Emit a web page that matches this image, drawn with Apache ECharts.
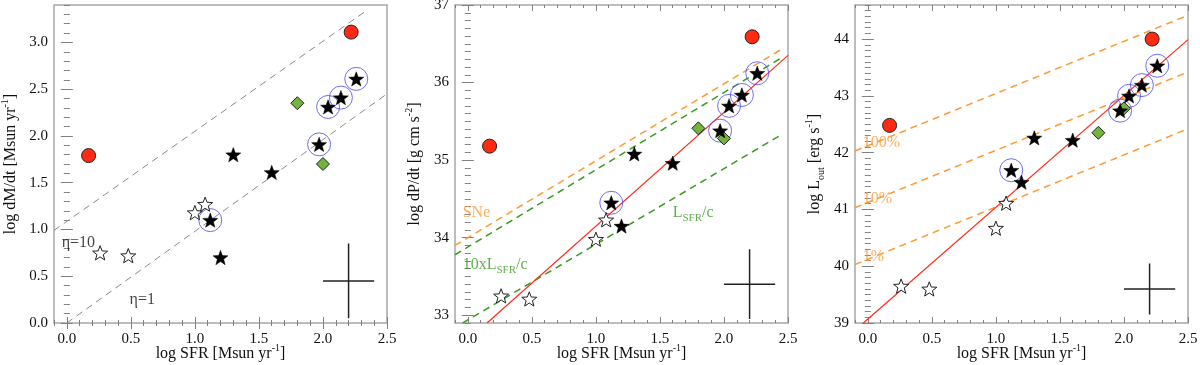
<!DOCTYPE html>
<html>
<head>
<meta charset="utf-8">
<script src="https://cdn.jsdelivr.net/npm/echarts@6/dist/echarts.min.js"></script>
<style>
  html, body { margin: 0; padding: 0; background: #fff; }
  #chart { width: 1200px; height: 365px; }
</style>
</head>
<body>
<div id="chart"></div>
<script>
// shared x values (log SFR)
const sfrRed = [0.17, 2.22];
const sfrGreen = [1.8, 2.0];
const sfrStar = [1.12, 1.2, 1.3, 1.6, 1.97, 2.04, 2.14, 2.26];
const starCircled = [1, 0, 0, 0, 1, 1, 1, 1];
const sfrOpen = [0.26, 0.48, 1.0, 1.08];

// panel 1: log dM/dt
const mdotRed = [1.79, 3.11];
const mdotGreen = [2.35, 1.70];
const mdotStar = [1.10, 0.70, 1.80, 1.61, 1.91, 2.31, 2.41, 2.61];
const mdotOpen = [0.75, 0.72, 1.18, 1.27];
const mdotEta1 = [[0, 0], [2.5, 2.45]];
const mdotEta10 = [[-0.1, 0.99], [2.35, 3.35]];
const mdotErr = [2.2, 0.45, 0.2, 0.4];

// panel 2: log dP/dt
const pdotRed = [35.18, 36.59];
const pdotGreen = [35.41, 35.28];
const pdotStar = [34.45, 34.15, 35.08, 34.96, 35.38, 35.70, 35.84, 36.12];
const pdotOpen = [33.25, 33.21, 33.98, 34.23];
const pdotFit = [[0.15, 32.9], [2.5, 36.35]];
const pdotSNe = [[-0.1, 33.9], [2.45, 36.43]];
const pdotRad10 = [[-0.1, 33.78], [2.45, 36.32]];
const pdotRad = [[-0.04, 32.9], [2.43, 35.31]];
const pdotErr = [2.2, 33.4, 0.2, 0.45];

// panel 3: log Lout
const loutRed = [42.48, 44.0];
const loutGreen = [42.35, 42.78];
const loutStar = [41.69, 41.48, 42.26, 42.22, 42.74, 43.0, 43.19, 43.53];
const loutOpen = [39.65, 39.6, 40.67, 41.11];
const loutFit = [[-0.035, 39.0], [2.5, 43.99]];
const lout100 = [[-0.1, 42.03], [2.5, 44.42]];
const lout10 = [[-0.1, 41.03], [2.5, 43.42]];
const lout1 = [[-0.1, 40.03], [2.5, 42.42]];
const loutErr = [2.2, 39.6, 0.2, 0.45];

// tick labels
const sfrTicks = [0, 0.5, 1, 1.5, 2, 2.5];
const mdotTicks = [0, 0.5, 1, 1.5, 2, 2.5, 3];
const pdotTicks = [33, 34, 35, 36, 37];
const loutTicks = [39, 40, 41, 42, 43, 44];

// annotations
const mdotNotes = [[-0.04, 0.86, 'η=10'], [0.49, 0.25, 'η=1']];
const pdotNotes = [[-0.04, 34.32, 'SNe', 'orange'], [-0.04, 33.65, '10xL{sub|SFR}/c', 'green'], [1.6, 34.32, 'L{sub|SFR}/c', 'green']];
const loutNotes = [[-0.04, 42.18, '100%'], [-0.04, 41.18, '10%'], [-0.04, 40.17, '1%']];

const FONT = 'Liberation Serif';
const ORANGE = '#ff9933';
const GREEN = '#3a9a22';
const RED = '#ff2a12';
const rich = {
  sup: { fontSize: 10, fontFamily: FONT, verticalAlign: 'top', lineHeight: 22 },
  sub: { fontSize: 10, fontFamily: FONT, verticalAlign: 'bottom', lineHeight: 22 }
};

// five-point star outline
let starPath = 'path://';
for (let i = 0; i < 10; i++) {
  const r = i % 2 ? 0.42 : 1;
  const a = (-90 + i * 36) * Math.PI / 180;
  starPath += (i ? 'L' : 'M') + (r * Math.cos(a)).toFixed(4) + ' ' + (r * Math.sin(a)).toFixed(4);
}
starPath += 'Z';

function minorsOf(min, max) {
  const out = [];
  for (let v = Math.round(min * 10); v <= Math.round(max * 10); v++) out.push(v / 10);
  return out;
}

const tickStyle = { color: '#808080', width: 1 };

function axesFor(dim, g, min, max, majors, name, fmt, gap) {
  const sides = dim === 'x' ? ['bottom', 'top'] : ['left', 'right'];
  const minors = minorsOf(min, max);
  const base = { type: 'value', gridIndex: g, min: min, max: max, axisLine: { show: false }, splitLine: { show: false } };
  const list = [];
  sides.forEach((pos, k) => {
    list.push(Object.assign({}, base, {
      position: pos,
      name: k === 0 ? name : '',
      nameLocation: 'middle',
      nameGap: gap,
      nameMoveOverlap: false,
      nameTextStyle: { fontFamily: FONT, fontSize: 16, color: '#111', rich: rich },
      axisLabel: k === 0
        ? { customValues: majors, formatter: fmt, fontFamily: FONT, fontSize: 15, color: '#111', margin: dim === 'x' ? 9 : 6 }
        : { show: false },
      axisTick: { customValues: majors, inside: true, length: 6, lineStyle: tickStyle }
    }));
    list.push(Object.assign({}, base, {
      position: pos,
      axisLabel: { show: false },
      axisTick: { customValues: minors, inside: true, length: 3, lineStyle: tickStyle }
    }));
  });
  return list;
}

const fmt1 = v => v.toFixed(1);
const fmt0 = v => v.toFixed(0);

const lefts = [54, 455, 855];
const grids = lefts.map(l => ({
  left: l, top: 5, width: 333, height: 318, show: true, containLabel: false,
  outerBoundsMode: 'none',
  borderColor: '#a8a8a8', borderWidth: 1.5, backgroundColor: 'transparent'
}));

let xAxes = [], yAxes = [];
for (let g = 0; g < 3; g++) {
  xAxes = xAxes.concat(axesFor('x', g, -0.1, 2.5, sfrTicks, 'log SFR [Msun yr{sup|-1}]', fmt1, 20));
}
yAxes = yAxes.concat(axesFor('y', 0, 0, 3.4, mdotTicks, 'log dM/dt [Msun yr{sup|-1}]', fmt1, 32));
yAxes = yAxes.concat(axesFor('y', 1, 32.9, 37, pdotTicks, 'log dP/dt [g cm s{sup|-2}]', fmt0, 29));
yAxes = yAxes.concat(axesFor('y', 2, 39, 44.6, loutTicks, 'log L{sub|out} [erg s{sup|-1}]', fmt0, 29));

function zip(xs, ys) { return xs.map((x, i) => [x, ys[i]]); }

function lineSeries(g, data, color, dashed, width) {
  return {
    type: 'line', xAxisIndex: g * 4, yAxisIndex: g * 4, data: data, symbol: 'none',
    silent: true, z: 1, animation: false,
    lineStyle: { color: color, width: width || 1, type: dashed ? [7, 5] : 'solid' }
  };
}

function crossSeries(g, e) {
  return [
    lineSeries(g, [[e[0] - e[2], e[1]], [e[0] + e[2], e[1]]], '#222', false, 1.5),
    lineSeries(g, [[e[0], e[1] - e[3]], [e[0], e[1] + e[3]]], '#222', false, 1.5)
  ];
}

function noteSeries(g, notes, defColor) {
  return {
    type: 'scatter', xAxisIndex: g * 4, yAxisIndex: g * 4, symbolSize: 0, silent: true, z: 3,
    animation: false,
    data: notes.map(n => ({
      value: [n[0], n[1]],
      label: {
        show: true, position: [0, 0], align: 'left', verticalAlign: 'middle',
        formatter: n[2], fontFamily: FONT, fontSize: 16,
        color: n[3] === 'orange' ? ORANGE : n[3] === 'green' ? GREEN : defColor,
        rich: { sub: { fontSize: 11, fontFamily: FONT, verticalAlign: 'bottom', lineHeight: 22, color: n[3] === 'green' ? GREEN : defColor } }
      }
    }))
  };
}

function markerSeries(g, red, green, star, open) {
  const ax = { xAxisIndex: g * 4, yAxisIndex: g * 4, animation: false };
  const ringed = sfrStar.map((x, i) => [x, star[i]]).filter((p, i) => starCircled[i]);
  return [
    Object.assign({ type: 'scatter', symbol: 'circle', symbolSize: 23, z: 4, data: ringed,
      itemStyle: { color: 'rgba(0,0,0,0)', borderColor: '#4b4bf0', borderWidth: 1 } }, ax),
    Object.assign({ type: 'scatter', symbol: 'circle', symbolSize: 14, z: 5, data: zip(sfrRed, red),
      itemStyle: { color: RED, borderColor: '#222', borderWidth: 1, opacity: 1 } }, ax),
    Object.assign({ type: 'scatter', symbol: 'diamond', symbolSize: 13, z: 5, data: zip(sfrGreen, green),
      itemStyle: { color: '#74b43e', borderColor: '#222', borderWidth: 1, opacity: 1 } }, ax),
    Object.assign({ type: 'scatter', symbol: starPath, symbolKeepAspect: true, symbolSize: 15, z: 6, data: zip(sfrStar, star),
      itemStyle: { color: '#000', borderColor: '#000', borderWidth: 0.5, opacity: 1 } }, ax),
    Object.assign({ type: 'scatter', symbol: starPath, symbolKeepAspect: true, symbolSize: 15, z: 6, data: zip(sfrOpen, open),
      itemStyle: { color: '#fff', borderColor: '#222', borderWidth: 1, opacity: 1 } }, ax)
  ];
}

const series = [].concat(
  lineSeries(0, mdotEta1, '#8a8a8a', true, 1),
  lineSeries(0, mdotEta10, '#8a8a8a', true, 1),
  crossSeries(0, mdotErr),
  noteSeries(0, mdotNotes, '#111'),
  markerSeries(0, mdotRed, mdotGreen, mdotStar, mdotOpen),

  lineSeries(1, pdotSNe, ORANGE, true, 1.5),
  lineSeries(1, pdotRad10, GREEN, true, 1.5),
  lineSeries(1, pdotRad, GREEN, true, 1.5),
  lineSeries(1, pdotFit, '#ff2a1a', false, 1.2),
  crossSeries(1, pdotErr),
  noteSeries(1, pdotNotes, '#111'),
  markerSeries(1, pdotRed, pdotGreen, pdotStar, pdotOpen),

  lineSeries(2, lout100, ORANGE, true, 1.5),
  lineSeries(2, lout10, ORANGE, true, 1.5),
  lineSeries(2, lout1, ORANGE, true, 1.5),
  lineSeries(2, loutFit, '#ff2a1a', false, 1.2),
  crossSeries(2, loutErr),
  noteSeries(2, loutNotes, ORANGE),
  markerSeries(2, loutRed, loutGreen, loutStar, loutOpen)
);

const chart = echarts.init(document.getElementById('chart'));
chart.setOption({
  animation: false,
  backgroundColor: '#fff',
  grid: grids,
  xAxis: xAxes,
  yAxis: yAxes,
  series: series
});
window.addEventListener('resize', function () { chart.resize(); });
</script>
</body>
</html>
